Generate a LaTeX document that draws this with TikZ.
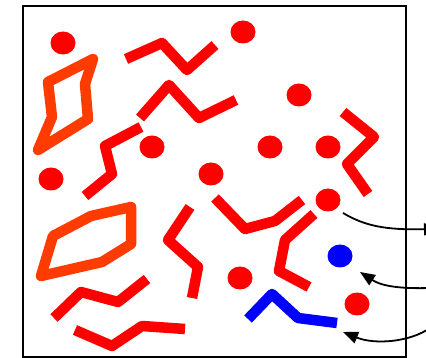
\documentclass[tikz,border=0pt]{standalone}
\usetikzlibrary{shapes.geometric,arrows.meta}
\definecolor{rd}{RGB}{255,0,0}
\definecolor{og}{RGB}{255,59,0}
\definecolor{bl}{RGB}{0,0,255}
\tikzset{
  dotr/.style={ellipse,fill=rd,draw=none,minimum width=25pt,minimum height=23pt,inner sep=0pt},
  dotb/.style={dotr,fill=bl},
  chain/.style={draw=rd,line width=10.5pt,line cap=butt,line join=round},
  chainb/.style={chain,draw=bl},
  ring/.style={draw=og,line width=10.5pt,line join=round},
  arr/.style={draw=black,line width=1.8pt,-{Triangle[length=15pt,width=12pt]}},
  frame/.style={draw=black,line width=2pt}
}
\begin{document}
\begin{tikzpicture}[x=1pt,y=-1pt]
\clip (0,0) rectangle (426,358);
\fill[white] (0,0) rectangle (426,358);
\draw[frame] (23,6) rectangle (406,356.5);
% dots
\node[dotr] (d1) at (63,43) {};
\node[dotr] (d2) at (243,32) {};
\node[dotr] (d3) at (299,95) {};
\node[dotr] (d4) at (152,147) {};
\node[dotr] (d5) at (270,147) {};
\node[dotr] (d6) at (328,147) {};
\node[dotr] (d7) at (51,179) {};
\node[dotr] (d8) at (211,174) {};
\node[dotr] (d9) at (328,200) {};
\node[dotb] (d10) at (340,256) {};
\node[dotr] (d11) at (240,278) {};
\node[dotr] (d12) at (357,304) {};
% orange rings
\draw[ring] (93,59) -- (85,84) -- (88,119) -- (38,150) -- (52,117) -- (48,82) -- cycle;
\draw[ring] (131,207) -- (131,244) -- (102,262) -- (41,276) -- (53,236) -- (91,216) -- cycle;
% red chains
\draw[chain] (126,59) -- (162,43) -- (187,70) -- (215,45);
\draw[chain] (140,118) -- (169,85) -- (199,118) -- (236,100);
\draw[chain] (141,127) -- (105,146) -- (112,174) -- (85,196);
\draw[chain] (54,318) -- (81,292) -- (118,302) -- (147,279);
\draw[chain] (75,330) -- (112,346) -- (142,326) -- (185,329);
\draw[chain] (190,207) -- (168,240) -- (198,267) -- (192,298);
\draw[chain] (215,198) -- (245,229) -- (275,221) -- (302,200);
\draw[chain] (314,214) -- (285,240) -- (279,271) -- (309,287);
\draw[chain] (343,112) -- (374,137) -- (347,164) -- (368,194);
\draw[chainb] (248,319) -- (272,294) -- (298,318) -- (337,323);
% arrows
\coordinate (a1s) at (343,213);
\coordinate (a1e) at (439,229);
\coordinate (a2s) at (430,288);
\coordinate (a2e) at (360,272);
\coordinate (a3s) at (430,328);
\coordinate (a3e) at (343,332);
\draw[arr] (a1s) .. controls (365,226) and (385,230) .. (a1e);
\draw[arr] (a2s) .. controls (395,289) and (380,285) .. (a2e);
\draw[arr] (a3s) .. controls (410,342) and (375,345) .. (a3e);
\end{tikzpicture}
\end{document}
